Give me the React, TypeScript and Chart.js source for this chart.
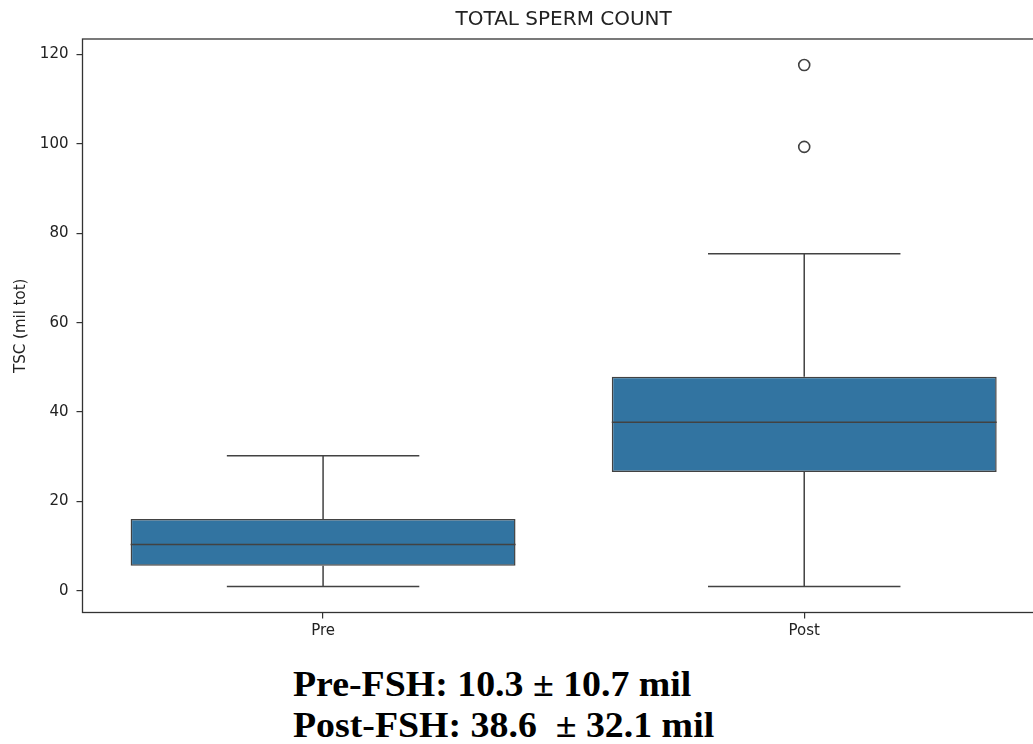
import { useEffect, useRef } from 'react';
import { Chart, registerables } from 'chart.js';

Chart.register(...registerables);

// Five-number summaries per group (million total sperm)
const categories = ['Pre', 'Post'];
const lowerWhisker = [1.0, 1.0];
const q1 = [5.6, 26.6];
const median = [10.4, 37.7];
const q3 = [16.1, 47.9];
const upperWhisker = [30.2, 75.4];
const outliers: number[][] = [[], [99.3, 117.6]];

const yTicks = [0, 20, 40, 60, 80, 100, 120];
const yMin = -4.83;
const yMax = 123.43;

const summaryLines = ['Pre-FSH: 10.3 \u00b1 10.7 mil', 'Post-FSH: 38.6  \u00b1 32.1 mil'];

const BOX_FILL = '#3274a1';
const LINE = '#424242';
const AXIS = '#333333';
const TEXT = '#222222';

// Whiskers, caps, medians and the axes frame, drawn through the chart's scales
const boxPlotExtras = {
  id: 'boxPlotExtras',
  beforeDatasetsDraw(chart: any) {
    const { ctx } = chart;
    const y = chart.scales.y;
    const meta = chart.getDatasetMeta(0);
    ctx.save();
    ctx.strokeStyle = LINE;
    ctx.lineWidth = 1.5;
    categories.forEach((_, i) => {
      const bar = meta.data[i];
      if (!bar) return;
      const cx = bar.x;
      const half = bar.width / 4;
      const yLo = y.getPixelForValue(lowerWhisker[i]);
      const yHi = y.getPixelForValue(upperWhisker[i]);
      ctx.beginPath();
      ctx.moveTo(cx, y.getPixelForValue(q1[i]));
      ctx.lineTo(cx, yLo);
      ctx.moveTo(cx, y.getPixelForValue(q3[i]));
      ctx.lineTo(cx, yHi);
      ctx.moveTo(cx - half, yLo);
      ctx.lineTo(cx + half, yLo);
      ctx.moveTo(cx - half, yHi);
      ctx.lineTo(cx + half, yHi);
      ctx.stroke();
    });
    ctx.restore();
  },
  afterDatasetsDraw(chart: any) {
    const { ctx, chartArea } = chart;
    const y = chart.scales.y;
    const meta = chart.getDatasetMeta(0);
    ctx.save();
    ctx.strokeStyle = LINE;
    ctx.lineWidth = 1.5;
    categories.forEach((_, i) => {
      const bar = meta.data[i];
      if (!bar) return;
      const ym = y.getPixelForValue(median[i]);
      ctx.beginPath();
      ctx.moveTo(bar.x - bar.width / 2, ym);
      ctx.lineTo(bar.x + bar.width / 2, ym);
      ctx.stroke();
    });
    ctx.strokeStyle = AXIS;
    ctx.lineWidth = 1.3;
    ctx.strokeRect(chartArea.left, chartArea.top, chartArea.right - chartArea.left, chartArea.bottom - chartArea.top);
    ctx.restore();
  },
};

export default function App() {
  const canvasRef = useRef<HTMLCanvasElement>(null);

  useEffect(() => {
    if (!canvasRef.current) return;
    Chart.defaults.font.family = 'DejaVu Sans';

    const outlierPoints = outliers.flatMap((vals, i) => vals.map((v) => ({ x: categories[i], y: v })));

    const chart = new Chart(canvasRef.current, {
      type: 'bar',
      data: {
        labels: categories,
        datasets: [
          {
            type: 'bar',
            data: categories.map((_, i) => [q1[i], q3[i]]),
            backgroundColor: BOX_FILL,
            borderColor: LINE,
            borderWidth: 1.5,
            borderSkipped: false,
            barPercentage: 0.8,
            categoryPercentage: 1.0,
          } as any,
          {
            type: 'line',
            data: outlierPoints as any,
            showLine: false,
            pointStyle: 'circle',
            pointRadius: 5.5,
            pointBorderWidth: 1.6,
            pointBorderColor: LINE,
            pointBackgroundColor: 'rgba(0,0,0,0)',
          } as any,
        ],
      },
      options: {
        responsive: false,
        animation: false,
        devicePixelRatio: 1,
        layout: { padding: { left: 0, right: 15.2, top: 0, bottom: 0 } },
        plugins: {
          legend: { display: false },
          tooltip: { enabled: false },
          title: {
            display: true,
            text: 'TOTAL SPERM COUNT',
            color: TEXT,
            fullSize: false,
            font: { size: 20, weight: 'normal', family: 'DejaVu Sans' },
            padding: { top: 8, bottom: 7 },
          },
        },
        scales: {
          x: {
            type: 'category',
            offset: true,
            border: { display: false },
            grid: { offset: false, drawOnChartArea: false, color: AXIS, lineWidth: 1.2, tickLength: 6 },
            ticks: { color: TEXT, font: { size: 15 }, padding: 4 },
            afterFit: (s: any) => {
              s.height = 37.5;
            },
          },
          y: {
            type: 'linear',
            min: yMin,
            max: yMax,
            border: { display: false },
            grid: { drawOnChartArea: false, color: AXIS, lineWidth: 1.2, tickLength: 6 },
            ticks: { color: TEXT, font: { size: 15 }, padding: 8 },
            afterBuildTicks: (s: any) => {
              s.ticks = yTicks.map((v) => ({ value: v }));
            },
            title: {
              display: true,
              text: 'TSC (mil tot)',
              color: TEXT,
              font: { size: 15 },
              padding: { top: 12.5, bottom: 0 },
            },
            afterFit: (s: any) => {
              s.width = 82.5;
            },
          },
        },
      } as any,
      plugins: [boxPlotExtras],
    });

    return () => chart.destroy();
  }, []);

  return (
    <div
      style={{
        position: 'fixed',
        left: 0,
        top: 0,
        width: 1033,
        height: 744,
        overflow: 'hidden',
        background: '#ffffff',
      }}
    >
      <canvas
        ref={canvasRef}
        width={1060}
        height={650}
        style={{ position: 'absolute', left: 0, top: 0, display: 'block' }}
      />
      <div
        style={{
          position: 'absolute',
          left: 293,
          top: 664,
          fontFamily: '"Liberation Serif", "Times New Roman", serif',
          fontWeight: 'bold',
          fontSize: 35,
          lineHeight: '41px',
          whiteSpace: 'pre',
          color: '#000',
          transform: 'scaleX(1.081)',
          transformOrigin: 'left top',
        }}
      >
        {summaryLines.join('\n')}
      </div>
    </div>
  );
}
